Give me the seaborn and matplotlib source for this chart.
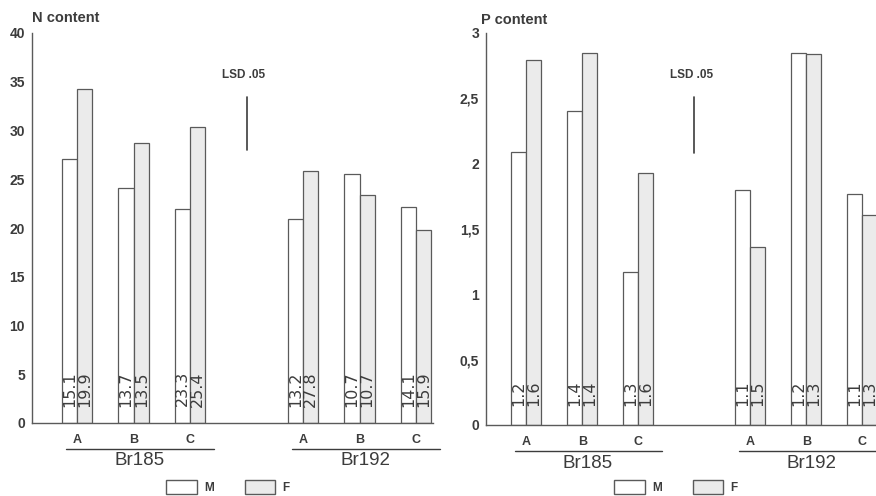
import numpy as np
import pandas as pd
import matplotlib
matplotlib.use("Agg")
import matplotlib.pyplot as plt
from matplotlib.patches import Patch
import seaborn as sns

# ---------------- data ----------------
groups = ["Br185", "Br192"]
treatments = ["A", "B", "C"]
sexes = ["M", "F"]

n_M = [27.1, 24.1, 21.9, 20.9, 25.5, 22.2]
n_F = [34.3, 28.7, 30.4, 25.8, 23.4, 19.8]
n_lab_M = ["15.1", "13.7", "23.3", "13.2", "10.7", "14.1"]
n_lab_F = ["19.9", "13.5", "25.4", "27.8", "10.7", "15.9"]

p_M = [2.09, 2.40, 1.17, 1.80, 2.85, 1.77]
p_F = [2.79, 2.85, 1.93, 1.36, 2.84, 1.61]
p_lab_M = ["1.2", "1.4", "1.3", "1.1", "1.2", "1.1"]
p_lab_F = ["1.6", "1.4", "1.6", "1.5", "1.3", "1.3"]

n_ticks = [0, 5, 10, 15, 20, 25, 30, 35, 40]
n_ticklabels = ["0", "5", "10", "15", "20", "25", "30", "35", "40"]
p_ticks = [0, 0.5, 1, 1.5, 2, 2.5, 3]
p_ticklabels = ["0", "0,5", "1", "1,5", "2", "2,5", "3"]

n_lsd = (28.0, 33.4)
p_lsd = (2.08, 2.51)
lsd_text = "LSD .05"

# ---------------- style ----------------
sns.set_theme(style="white")
plt.rcParams["font.family"] = ["Liberation Sans", "DejaVu Sans"]
INK = "#3c3c3c"
EDGE = "#5a5a5a"
FILL_F = "#ebebeb"

cats = [f"{g} {t}" for g in groups for t in treatments]
order = cats[:3] + ["gap"] + cats[3:]


def make_df(mv, fv):
    rows = []
    for c, m, f in zip(cats, mv, fv):
        rows.append((c, "M", m))
        rows.append((c, "F", f))
    return pd.DataFrame(rows, columns=["cat", "sex", "value"])


fig = plt.figure(figsize=(8.76, 4.96), dpi=100)
W, H = 876, 496

panels = [
    dict(rect=(32, 33, 433, 423), xlim=(-0.8, 6.3), ylim=(0, 40),
         M=n_M, F=n_F, lM=n_lab_M, lF=n_lab_F, ticks=n_ticks,
         tlabels=n_ticklabels, lsd=n_lsd, label_y=3.5, title="N content",
         title_xy=(32, 18), lsd_text_y=35.7, legend_x=228),
    dict(rect=(486, 33, 878, 425), xlim=(-0.72, 6.28), ylim=(0, 3),
         M=p_M, F=p_F, lM=p_lab_M, lF=p_lab_F, ticks=p_ticks,
         tlabels=p_ticklabels, lsd=p_lsd, label_y=0.24, title="P content",
         title_xy=(481, 20), lsd_text_y=2.68, legend_x=676),
]

for pn in panels:
    x0, y0, x1, y1 = pn["rect"]
    ax = fig.add_axes([x0 / W, 1 - y1 / H, (x1 - x0) / W, (y1 - y0) / H])
    df = make_df(pn["M"], pn["F"])
    sns.barplot(data=df, x="cat", y="value", hue="sex", order=order,
                hue_order=sexes, palette={"M": "white", "F": FILL_F},
                width=0.54, edgecolor=EDGE, linewidth=0.9, ax=ax,
                legend=False, errorbar=None)
    ax.set_xlim(*pn["xlim"])
    ax.set_ylim(*pn["ylim"])
    ax.set_xlabel("")
    ax.set_ylabel("")
    for s in ["top", "right"]:
        ax.spines[s].set_visible(False)
    for s in ["left", "bottom"]:
        ax.spines[s].set_color(EDGE)
        ax.spines[s].set_linewidth(1.0)
    ax.set_yticks(pn["ticks"])
    ax.set_yticklabels(pn["tlabels"], fontsize=10, fontweight="bold", color=INK)
    pos = [0, 1, 2, 4, 5, 6]
    ax.set_xticks(pos)
    ax.set_xticklabels(treatments * 2, fontsize=9, fontweight="bold", color=INK)
    ax.tick_params(axis="both", length=0)
    ax.tick_params(axis="x", pad=8)
    ax.tick_params(axis="y", pad=5)
    ax.set_facecolor("white")

    # in-bar vertical numbers
    for cont, labs in zip(ax.containers, [pn["lM"], pn["lF"]]):
        bars = [b for b in cont if np.isfinite(b.get_height())]
        for b, lab in zip(bars, labs):
            ax.text(b.get_x() + b.get_width() / 2, pn["label_y"], lab,
                    rotation=90, ha="center", va="center", fontsize=11.5,
                    color=INK, family=["Liberation Sans Narrow", "DejaVu Sans"])

    # LSD bar
    ax.plot([3, 3], list(pn["lsd"]), color=INK, lw=1.2)
    ax.text(2.95, pn["lsd_text_y"], lsd_text, ha="center", va="center",
            fontsize=8.5, fontweight="bold", color=INK)

    # group underlines and labels
    tr = ax.get_xaxis_transform()
    for gi, g in enumerate(groups):
        p0 = pos[gi * 3]
        p1 = pos[gi * 3 + 2]
        ax.plot([p0 - 0.2, p1 + 0.42], [-0.067, -0.067], transform=tr,
                color=INK, lw=1.0, clip_on=False)
        ax.text((p0 + p1) / 2 + 0.1, -0.097, g, transform=tr, ha="center",
                va="center", fontsize=13.5, color=INK)

    fig.text(pn["title_xy"][0] / W, 1 - pn["title_xy"][1] / H, pn["title"],
             ha="left", va="center", fontsize=10.5, fontweight="bold", color=INK)

    handles = [Patch(facecolor="white", edgecolor=EDGE, linewidth=1.0),
               Patch(facecolor=FILL_F, edgecolor=EDGE, linewidth=1.0)]
    leg = fig.legend(handles, sexes, loc="center",
                     bbox_to_anchor=(pn["legend_x"] / W, 1 - 487 / H),
                     ncol=2, frameon=False, handlelength=2.6, handleheight=1.4,
                     columnspacing=2.6, handletextpad=0.6,
                     prop=dict(size=8.5, weight="bold"))
    for t in leg.get_texts():
        t.set_color(INK)

fig.savefig("out.png", dpi=100, facecolor="white")
